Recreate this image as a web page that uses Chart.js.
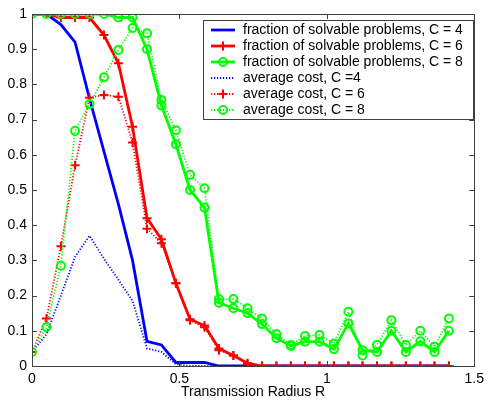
<!DOCTYPE html>
<html>
<head>
<meta charset="utf-8">
<script src="https://cdn.jsdelivr.net/npm/chart.js@4/dist/chart.umd.min.js"></script>
<style>
  html, body { margin: 0; padding: 0; background: #fff; }
  #wrap { width: 489px; height: 401px; }
</style>
</head>
<body>
<div id="wrap"><canvas id="myChart"></canvas></div>
<script>
// transmission radius R (30 samples from 0 to ~1.414)
const radius = [
  0, 0.049, 0.098, 0.146, 0.195, 0.244, 0.293, 0.341, 0.390, 0.439,
  0.488, 0.536, 0.585, 0.634, 0.683, 0.731, 0.780, 0.829, 0.878, 0.926,
  0.975, 1.024, 1.073, 1.121, 1.170, 1.219, 1.268, 1.317, 1.365, 1.414,
];

// fraction of solvable problems
const fracC4 = [
  1, 1, 0.97, 0.92, 0.76, 0.61, 0.46, 0.30, 0.07, 0.06,
  0.01, 0.01, 0.01, 0, 0, 0, 0, 0, 0, 0,
  0, 0, 0, 0, 0, 0, 0, 0, 0, 0,
];
const fracC6 = [
  1, 1, 0.99, 0.99, 0.99, 0.94, 0.86, 0.68, 0.42, 0.36,
  0.235, 0.133, 0.115, 0.05, 0.03, 0.008, 0, 0, 0, 0,
  0, 0, 0, 0, 0, 0, 0, 0, 0, 0,
];
const fracC8 = [
  1, 1, 1, 1, 1, 1, 0.99, 0.99, 0.90, 0.74,
  0.63, 0.50, 0.45, 0.18, 0.164, 0.15, 0.119, 0.079, 0.057, 0.069,
  0.069, 0.048, 0.121, 0.045, 0.04, 0.10, 0.04, 0.07, 0.04, 0.10,
];

// average cost
const costC4 = [
  0.04, 0.09, 0.20, 0.31, 0.37, 0.305, 0.245, 0.185, 0.05, 0.04,
  0.005, 0, 0, 0, 0, 0, 0, 0, 0, 0,
  0, 0, 0, 0, 0, 0, 0, 0, 0, 0,
];
const costC6 = [
  0.04, 0.135, 0.34, 0.57, 0.762, 0.77, 0.765, 0.635, 0.39, 0.349,
  0.235, 0.13, 0.11, 0.045, 0.03, 0.005, 0, 0, 0, 0,
  0, 0, 0, 0, 0, 0, 0, 0, 0, 0,
];
const costC8 = [
  0.04, 0.11, 0.285, 0.668, 0.744, 0.82, 0.898, 0.96, 0.945, 0.756,
  0.67, 0.543, 0.505, 0.19, 0.19, 0.164, 0.135, 0.09, 0.06, 0.085,
  0.088, 0.064, 0.154, 0.03, 0.06, 0.13, 0.06, 0.10, 0.055, 0.135,
];

const seriesLabels = [
  "fraction of solvable problems, C = 4",
  "fraction of solvable problems, C = 6",
  "fraction of solvable problems, C = 8",
  "average cost, C =4",
  "average cost, C = 6",
  "average cost, C = 8",
];

const xTicks = [0, 0.5, 1, 1.5];

const BLUE = "#0000ff";
const RED = "#ff0000";
const GREEN = "#00ff00";
const FONT = "'Liberation Sans', Arial, sans-serif";
const FONT_SIZE = 14;

function toPoints(ys) {
  return ys.map((y, i) => ({ x: radius[i], y: y }));
}

function makeSet(label, ys, color, dotted, marker, order) {
  return {
    label: label,
    data: toPoints(ys),
    borderColor: color,
    backgroundColor: "rgba(0,0,0,0)",
    borderWidth: dotted ? 1.8 : 2.8,
    borderDash: dotted ? [1.2, 1.8] : [],
    pointStyle: marker || "circle",
    pointRadius: marker ? (marker === "cross" ? 4.5 : 4) : 0,
    pointBorderWidth: 2,
    pointBorderColor: color,
    pointBackgroundColor: "rgba(0,0,0,0)",
    tension: 0,
    order: order,
  };
}

// box, inward ticks on all four sides (matlab style)
const boxPlugin = {
  id: "box",
  afterDatasetsDraw(chart) {
    const { ctx, chartArea: a, scales } = chart;
    ctx.save();
    ctx.strokeStyle = "#404040";
    ctx.lineWidth = 1;
    ctx.beginPath();
    scales.x.ticks.forEach((t) => {
      const px = Math.round(scales.x.getPixelForValue(t.value)) + 0.5;
      ctx.moveTo(px, a.bottom); ctx.lineTo(px, a.bottom - 5);
      ctx.moveTo(px, a.top); ctx.lineTo(px, a.top + 5);
    });
    scales.y.ticks.forEach((t) => {
      const py = Math.round(scales.y.getPixelForValue(t.value)) + 0.5;
      ctx.moveTo(a.left, py); ctx.lineTo(a.left + 5, py);
      ctx.moveTo(a.right, py); ctx.lineTo(a.right - 5, py);
    });
    ctx.stroke();
    ctx.strokeRect(Math.round(a.left) + 0.5, Math.round(a.top) + 0.5,
      Math.round(a.right - a.left), Math.round(a.bottom - a.top));
    ctx.restore();
  },
};

// legend box inside the axes, top right
const legendPlugin = {
  id: "insideLegend",
  afterDraw(chart) {
    const ctx = chart.ctx;
    const x0 = 203, y0 = 20, w = 270, h = 99;
    ctx.save();
    ctx.fillStyle = "#fff";
    ctx.fillRect(x0, y0, w, h);
    ctx.strokeStyle = "#404040";
    ctx.lineWidth = 1;
    ctx.strokeRect(x0 + 0.5, y0 + 0.5, w, h);
    ctx.font = FONT_SIZE + "px " + FONT;
    ctx.textBaseline = "middle";
    chart.data.datasets.forEach((ds, i) => {
      const cy = y0 + 10 + i * 16;
      ctx.strokeStyle = ds.borderColor;
      ctx.lineWidth = ds.borderWidth;
      ctx.setLineDash(ds.borderDash);
      ctx.beginPath();
      ctx.moveTo(x0 + 8, cy);
      ctx.lineTo(x0 + 32, cy);
      ctx.stroke();
      ctx.setLineDash([]);
      if (ds.pointRadius > 0) {
        ctx.fillStyle = "rgba(0,0,0,0)";
        ctx.strokeStyle = ds.borderColor;
        ctx.lineWidth = ds.pointBorderWidth;
        Chart.helpers.drawPoint(ctx, {
          pointStyle: ds.pointStyle,
          radius: ds.pointRadius,
          borderWidth: ds.pointBorderWidth,
          rotation: 0,
        }, x0 + 20, cy);
      }
      ctx.fillStyle = "#000";
      ctx.fillText(ds.label, x0 + 40, cy + 0.5);
    });
    ctx.restore();
  },
};

new Chart("myChart", {
  type: "line",
  data: {
    datasets: [
      makeSet(seriesLabels[0], fracC4, BLUE, false, null, 6),
      makeSet(seriesLabels[1], fracC6, RED, false, "cross", 5),
      makeSet(seriesLabels[2], fracC8, GREEN, false, "circle", 4),
      makeSet(seriesLabels[3], costC4, BLUE, true, null, 3),
      makeSet(seriesLabels[4], costC6, RED, true, "cross", 2),
      makeSet(seriesLabels[5], costC8, GREEN, true, "circle", 1),
    ],
  },
  options: {
    responsive: true,
    maintainAspectRatio: false,
    animation: false,
    layout: { padding: { top: 14, right: 11, left: 0, bottom: 0 } },
    plugins: {
      legend: { display: false },
      tooltip: { enabled: false },
    },
    scales: {
      x: {
        type: "linear",
        min: 0,
        max: 1.5,
        afterBuildTicks: (s) => { s.ticks = xTicks.map((v) => ({ value: v })); },
        afterFit: (s) => { s.height = 35; },
        grid: { display: false, drawTicks: false },
        border: { display: false },
        ticks: {
          padding: 5,
          color: "#000",
          font: { family: FONT, size: FONT_SIZE },
          callback: (v) => String(v),
        },
        title: {
          display: true,
          text: "Transmission Radius R",
          color: "#000",
          font: { family: FONT, size: FONT_SIZE },
          padding: { top: 0, bottom: 0 },
        },
      },
      y: {
        min: 0,
        max: 1,
        afterFit: (s) => { s.width = 32; },
        grid: { display: false, drawTicks: false },
        border: { display: false },
        ticks: {
          stepSize: 0.1,
          padding: 5,
          color: "#000",
          font: { family: FONT, size: FONT_SIZE },
          callback: (v) => String(Math.round(v * 10) / 10),
        },
      },
    },
  },
  plugins: [boxPlugin, legendPlugin],
});
</script>
</body>
</html>
